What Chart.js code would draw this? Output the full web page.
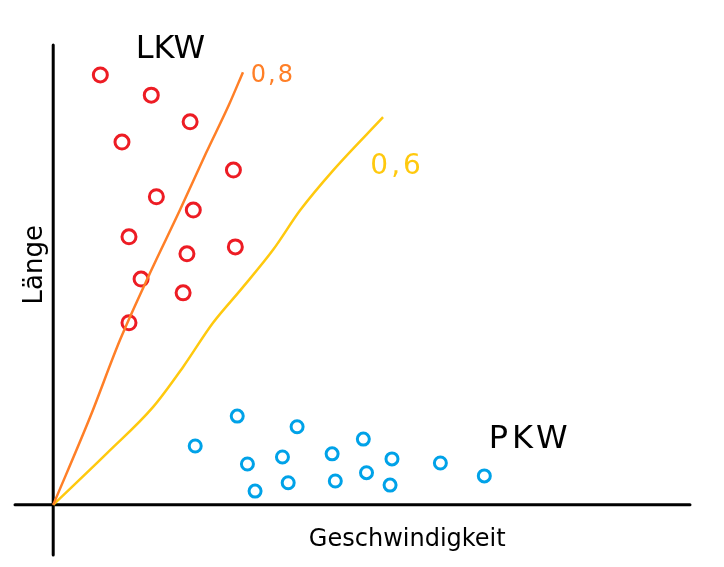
<!DOCTYPE html>
<html>
<head>
<meta charset="utf-8">
<script src="https://cdn.jsdelivr.net/npm/chart.js@4/dist/chart.umd.min.js"></script>
<style>
html,body{margin:0;padding:0;background:#fff;}
#wrap{width:724px;height:567px;position:relative;}
</style>
</head>
<body>
<div id="wrap"><canvas id="c" width="724" height="567"></canvas></div>
<script>
// LKW (trucks): speed (x) vs length (y)
const lkwSpeed  = [7.4, 15.4, 21.5, 10.8, 28.3, 16.2, 22.0, 11.9, 28.6, 21.0, 13.8, 20.4, 11.9];
const lkwLength = [93.5, 89.1, 83.3, 78.9, 72.8, 67.0, 64.1, 58.3, 56.1, 54.6, 49.1, 46.1, 39.6];

// PKW (cars)
const pkwSpeed  = [28.9, 38.3, 22.3, 48.7, 30.5, 36.0, 43.8, 53.2, 60.8, 49.2, 44.3, 36.9, 31.7, 52.9, 67.7];
const pkwLength = [19.3, 17.0, 12.8, 14.3, 8.9, 10.4, 11.1, 10.0, 9.1, 7.0, 5.2, 4.8, 3.0, 4.3, 6.3];

// Separation line 0,8
const line08X = [0, 5.8, 10.5, 15.2, 19.9, 24.0, 27.6, 29.8];
const line08Y = [0, 19.1, 35.9, 50.4, 64.1, 76.5, 87.0, 94.1];

// Separation line 0,6
const line06X = [0, 8.5, 15.7, 20.4, 25.1, 29.4, 34.5, 38.8, 44.0, 51.8];
const line06Y = [0, 11.3, 21.3, 30.0, 39.6, 46.7, 55.4, 64.1, 72.8, 84.3];

// Texts
const labelLKW = "LKW";
const labelPKW = "PKW";
const label08 = "0,8";
const label06 = "0,6";
const axisX = "Geschwindigkeit";
const axisY = "Länge";

const zip = (xs, ys) => xs.map((x, i) => ({x: x, y: ys[i]}));

const RED = '#ED1C24', BLUE = '#00A2E8', ORANGE = '#FF7F27', YELLOW = '#FFC90E';

const annotations = [
  {text: labelLKW, x: 18.4, y: 98.9, color: '#000', size: 32, spacing: 0},
  {text: label08, x: 34.5, y: 93.3, color: ORANGE, size: 24, spacing: 2},
  {text: label06, x: 54.0, y: 73.5, color: YELLOW, size: 28, spacing: 3},
  {text: labelPKW, x: 74.9, y: 14.1, color: '#000', size: 32, spacing: 4},
  {text: axisX, x: 55.6, y: -7.6, color: '#000', size: 24, spacing: 0},
  {text: axisY, x: -2.8, y: 52.2, color: '#000', size: 26, spacing: 0, rotate: true}
];

const sketchPlugin = {
  id: 'sketch',
  beforeDatasetsDraw(chart) {
    const {ctx, chartArea, scales} = chart;
    const x0 = scales.x.getPixelForValue(0);
    const y0 = scales.y.getPixelForValue(0);
    ctx.save();
    ctx.strokeStyle = '#000';
    ctx.lineWidth = 3;
    ctx.lineCap = 'round';
    ctx.beginPath();
    ctx.moveTo(chartArea.left, y0);
    ctx.lineTo(chartArea.right, y0);
    ctx.moveTo(x0, chartArea.top);
    ctx.lineTo(x0, chartArea.bottom);
    ctx.stroke();
    ctx.restore();
  },
  afterDatasetsDraw(chart) {
    const {ctx, scales} = chart;
    ctx.save();
    annotations.forEach(a => {
      const px = scales.x.getPixelForValue(a.x);
      const py = scales.y.getPixelForValue(a.y);
      ctx.fillStyle = a.color;
      ctx.font = a.size + 'px "DejaVu Sans", sans-serif';
      ctx.letterSpacing = a.spacing + 'px';
      ctx.textAlign = 'center';
      ctx.textBaseline = 'middle';
      if (a.rotate) {
        ctx.save();
        ctx.translate(px, py);
        ctx.rotate(-Math.PI / 2);
        ctx.fillText(a.text, 0, 0);
        ctx.restore();
      } else {
        ctx.fillText(a.text, px, py);
      }
    });
    ctx.restore();
  }
};

new Chart(document.getElementById('c'), {
  type: 'scatter',
  data: {
    datasets: [
      {
        label: label08, type: 'line', data: zip(line08X, line08Y),
        borderColor: ORANGE, borderWidth: 2.5, pointRadius: 0, fill: false,
        cubicInterpolationMode: 'monotone'
      },
      {
        label: label06, type: 'line', data: zip(line06X, line06Y),
        borderColor: YELLOW, borderWidth: 2.5, pointRadius: 0, fill: false,
        cubicInterpolationMode: 'monotone'
      },
      {
        label: labelLKW, data: zip(lkwSpeed, lkwLength),
        borderColor: RED, backgroundColor: 'rgba(255,255,255,0)', borderWidth: 3,
        pointRadius: 7, pointStyle: 'circle'
      },
      {
        label: labelPKW, data: zip(pkwSpeed, pkwLength),
        borderColor: BLUE, backgroundColor: 'rgba(255,255,255,0)', borderWidth: 3,
        pointRadius: 6, pointStyle: 'circle'
      }
    ]
  },
  options: {
    responsive: false,
    animation: false,
    devicePixelRatio: 1,
    layout: {padding: {left: 15, right: 34, top: 45, bottom: 12}},
    plugins: {legend: {display: false}, tooltip: {enabled: false}},
    scales: {
      x: {type: 'linear', min: -6, max: 100, display: false},
      y: {type: 'linear', min: -10.9, max: 100, display: false}
    }
  },
  plugins: [sketchPlugin]
});
</script>
</body>
</html>
